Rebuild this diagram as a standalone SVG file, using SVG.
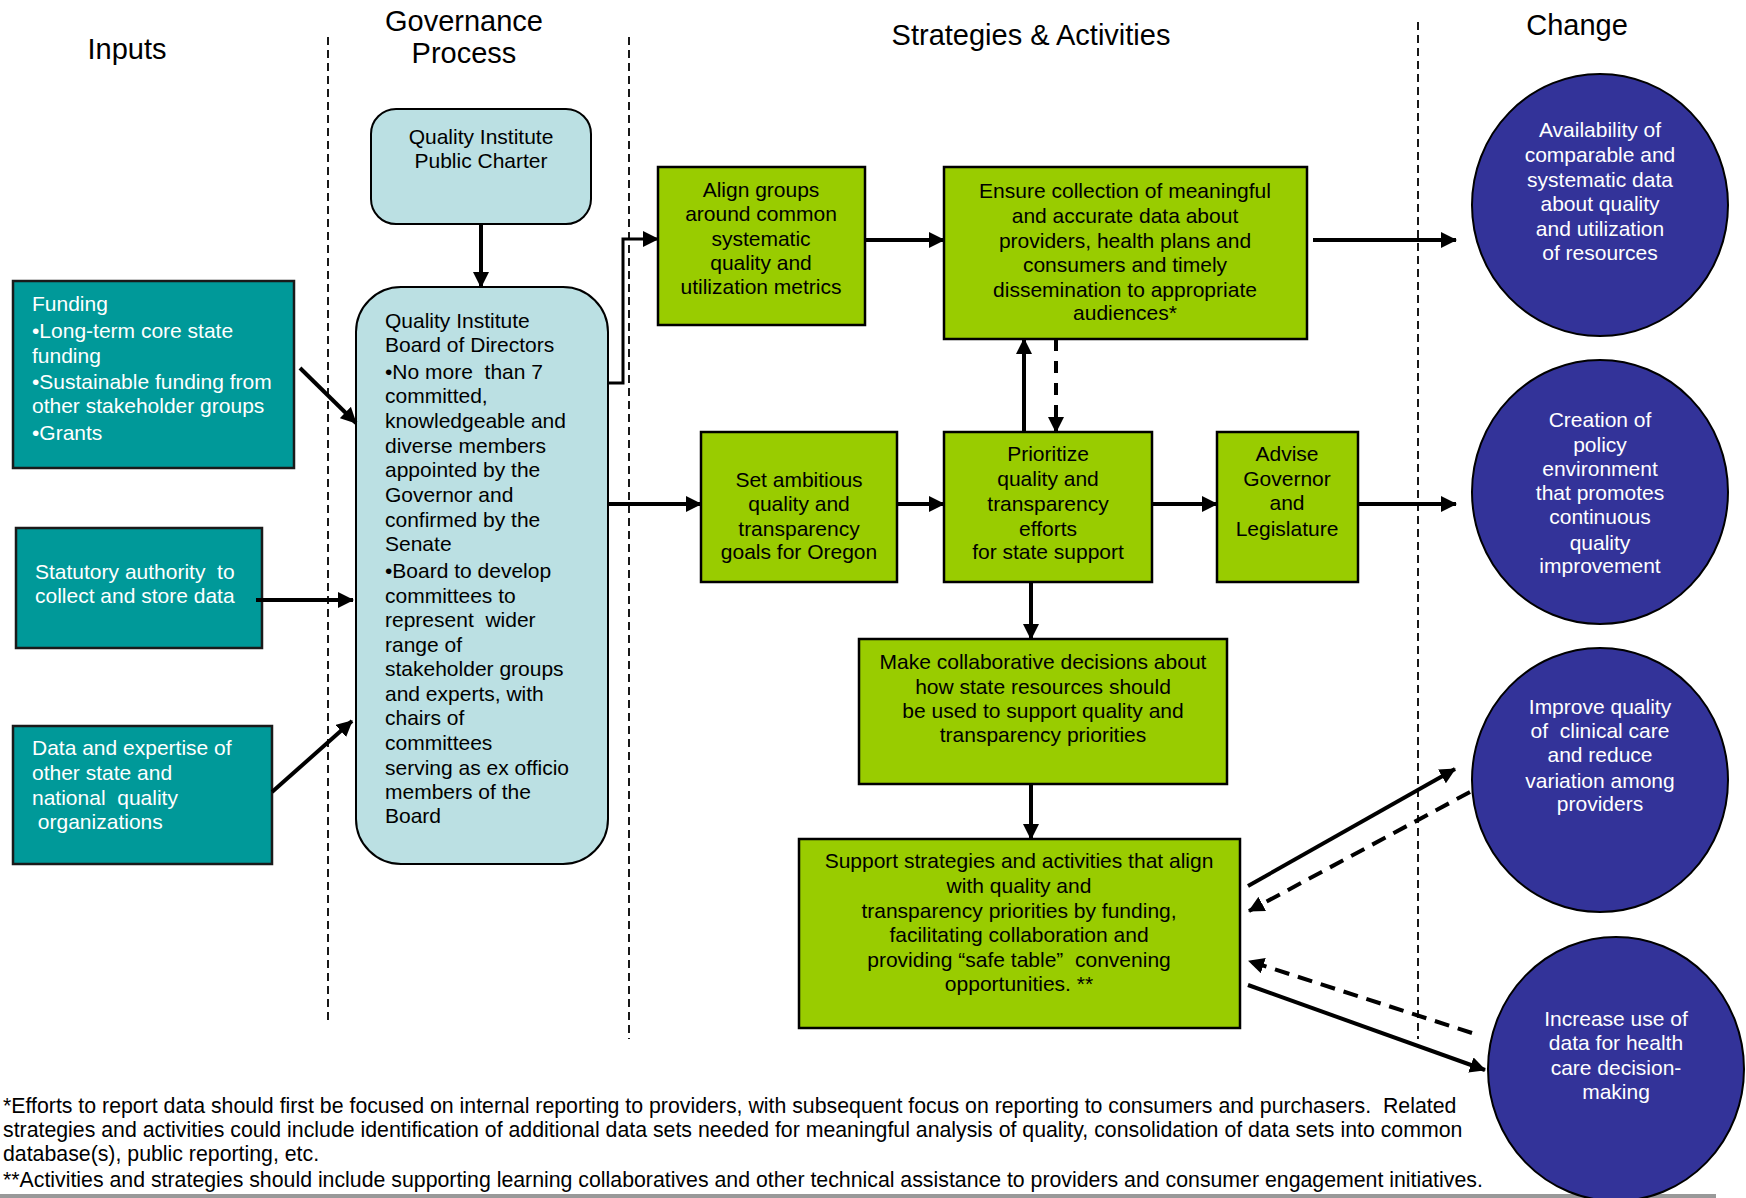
<svg xmlns="http://www.w3.org/2000/svg" width="1746" height="1198" viewBox="0 0 1746 1198">
<style>
text { font-family: "Liberation Sans", Arial, sans-serif; font-size: 21px; white-space: pre; }
.title { font-size: 29px; fill: #000; text-anchor: middle; }
.w { fill: #fff; }
.b { fill: #000; }
.c { text-anchor: middle; }
.teal { fill: #009999; stroke: #1a1a1a; stroke-width: 2.5; }
.lb { fill: #BBE0E3; stroke: #000; stroke-width: 2; }
.gr { fill: #99CC00; stroke: #000; stroke-width: 2.5; }
.circ { fill: #333399; stroke: #000; stroke-width: 2; }
.div { stroke: #000; stroke-width: 1.8; stroke-dasharray: 8 5; fill: none; }
.ar { stroke: #000; stroke-width: 4; fill: none; marker-end: url(#ah); }
.ard { stroke: #000; stroke-width: 4; fill: none; stroke-dasharray: 15 9; marker-end: url(#ah); }
.foot { font-size: 21.3px; fill: #000; }
</style>
<defs>
<marker id="ah" markerUnits="userSpaceOnUse" markerWidth="16" markerHeight="16" refX="15" refY="8" orient="auto" viewBox="0 0 16 16">
<path d="M0,0 L16,8 L0,16 z" fill="#000"/>
</marker>
</defs>
<rect x="0" y="0" width="1746" height="1198" fill="#fff"/>

<g id="titles">
<text class="title" x="127" y="59">Inputs</text>
<text class="title" x="464" y="31">Governance</text>
<text class="title" x="464" y="63">Process</text>
<text class="title" x="1031" y="45">Strategies &amp; Activities</text>
<text class="title" x="1577" y="35">Change</text>
</g>

<g id="dividers">
<line class="div" x1="328" y1="37" x2="328" y2="1024"/>
<line class="div" x1="629" y1="37" x2="629" y2="1039"/>
<line class="div" x1="1418" y1="22" x2="1418" y2="1039"/>
</g>

<g id="funding">
<rect class="teal" x="13" y="281" width="281" height="187"/>
<text class="w" x="32" y="311">Funding</text>
<text class="w" x="32" y="338">•Long-term core state</text>
<text class="w" x="32" y="363">funding</text>
<text class="w" x="32" y="389">•Sustainable funding from</text>
<text class="w" x="32" y="413">other stakeholder groups</text>
<text class="w" x="32" y="440">•Grants</text>
</g>

<g id="statutory">
<rect class="teal" x="16" y="528" width="246" height="120"/>
<text class="w" x="35" y="579">Statutory authority  to</text>
<text class="w" x="35" y="603">collect and store data</text>
</g>

<g id="data-expertise">
<rect class="teal" x="13" y="726" width="259" height="138"/>
<text class="w" x="32" y="755">Data and expertise of</text>
<text class="w" x="32" y="780">other state and</text>
<text class="w" x="32" y="805">national  quality</text>
<text class="w" x="32" y="829"> organizations</text>
</g>

<g id="charter">
<rect class="lb" x="371" y="109" width="220" height="115" rx="25" ry="25"/>
<text class="b c" x="481" y="144">Quality Institute</text>
<text class="b c" x="481" y="168">Public Charter</text>
</g>

<g id="board">
<rect class="lb" x="356" y="287" width="252" height="577" rx="45" ry="45"/>
<text class="b" x="385" y="328">Quality Institute</text>
<text class="b" x="385" y="352">Board of Directors</text>
<text class="b" x="385" y="379">•No more  than 7</text>
<text class="b" x="385" y="403">committed,</text>
<text class="b" x="385" y="428">knowledgeable and</text>
<text class="b" x="385" y="453">diverse members</text>
<text class="b" x="385" y="477">appointed by the</text>
<text class="b" x="385" y="502">Governor and</text>
<text class="b" x="385" y="527">confirmed by the</text>
<text class="b" x="385" y="551">Senate</text>
<text class="b" x="385" y="578">•Board to develop</text>
<text class="b" x="385" y="603">committees to</text>
<text class="b" x="385" y="627">represent  wider</text>
<text class="b" x="385" y="652">range of</text>
<text class="b" x="385" y="676">stakeholder groups</text>
<text class="b" x="385" y="701">and experts, with</text>
<text class="b" x="385" y="725">chairs of</text>
<text class="b" x="385" y="750">committees</text>
<text class="b" x="385" y="775">serving as ex officio</text>
<text class="b" x="385" y="799">members of the</text>
<text class="b" x="385" y="823">Board</text>
</g>

<g id="align">
<rect class="gr" x="658" y="167" width="207" height="158"/>
<text class="b c" x="761" y="197">Align groups</text>
<text class="b c" x="761" y="221">around common</text>
<text class="b c" x="761" y="246">systematic</text>
<text class="b c" x="761" y="270">quality and</text>
<text class="b c" x="761" y="294">utilization metrics</text>
</g>

<g id="ensure">
<rect class="gr" x="944" y="167" width="363" height="172"/>
<text class="b c" x="1125" y="198">Ensure collection of meaningful</text>
<text class="b c" x="1125" y="223">and accurate data about</text>
<text class="b c" x="1125" y="248">providers, health plans and</text>
<text class="b c" x="1125" y="272">consumers and timely</text>
<text class="b c" x="1125" y="297">dissemination to appropriate</text>
<text class="b c" x="1125" y="320">audiences*</text>
</g>

<g id="set-goals">
<rect class="gr" x="701" y="432" width="196" height="150"/>
<text class="b c" x="799" y="487">Set ambitious</text>
<text class="b c" x="799" y="511">quality and</text>
<text class="b c" x="799" y="536">transparency</text>
<text class="b c" x="799" y="559">goals for Oregon</text>
</g>

<g id="prioritize">
<rect class="gr" x="944" y="432" width="208" height="150"/>
<text class="b c" x="1048" y="461">Prioritize</text>
<text class="b c" x="1048" y="486">quality and</text>
<text class="b c" x="1048" y="511">transparency</text>
<text class="b c" x="1048" y="536">efforts</text>
<text class="b c" x="1048" y="559">for state support</text>
</g>

<g id="advise">
<rect class="gr" x="1217" y="432" width="141" height="150"/>
<text class="b c" x="1287" y="461">Advise</text>
<text class="b c" x="1287" y="486">Governor</text>
<text class="b c" x="1287" y="510">and</text>
<text class="b c" x="1287" y="536">Legislature</text>
</g>

<g id="make-decisions">
<rect class="gr" x="859" y="639" width="368" height="145"/>
<text class="b c" x="1043" y="669">Make collaborative decisions about</text>
<text class="b c" x="1043" y="694">how state resources should</text>
<text class="b c" x="1043" y="718">be used to support quality and</text>
<text class="b c" x="1043" y="742">transparency priorities</text>
</g>

<g id="support">
<rect class="gr" x="799" y="839" width="441" height="189"/>
<text class="b c" x="1019" y="868">Support strategies and activities that align</text>
<text class="b c" x="1019" y="893">with quality and</text>
<text class="b c" x="1019" y="918">transparency priorities by funding,</text>
<text class="b c" x="1019" y="942">facilitating collaboration and</text>
<text class="b c" x="1019" y="967">providing “safe table”  convening</text>
<text class="b c" x="1019" y="991">opportunities. **</text>
</g>

<g id="change-availability">
<ellipse class="circ" cx="1600" cy="205" rx="128" ry="131"/>
<text class="w c" x="1600" y="137">Availability of</text>
<text class="w c" x="1600" y="162">comparable and</text>
<text class="w c" x="1600" y="187">systematic data</text>
<text class="w c" x="1600" y="211">about quality</text>
<text class="w c" x="1600" y="236">and utilization</text>
<text class="w c" x="1600" y="260">of resources</text>
</g>

<g id="change-policy">
<ellipse class="circ" cx="1600" cy="492" rx="128" ry="132"/>
<text class="w c" x="1600" y="427">Creation of</text>
<text class="w c" x="1600" y="452">policy</text>
<text class="w c" x="1600" y="476">environment</text>
<text class="w c" x="1600" y="500">that promotes</text>
<text class="w c" x="1600" y="524">continuous</text>
<text class="w c" x="1600" y="550">quality</text>
<text class="w c" x="1600" y="573">improvement</text>
</g>

<g id="change-clinical">
<ellipse class="circ" cx="1600" cy="780" rx="128" ry="132"/>
<text class="w c" x="1600" y="714">Improve quality</text>
<text class="w c" x="1600" y="738">of  clinical care</text>
<text class="w c" x="1600" y="762">and reduce</text>
<text class="w c" x="1600" y="788">variation among</text>
<text class="w c" x="1600" y="811">providers</text>
</g>

<g id="footnotes">
<rect x="0" y="1194" width="1716" height="4" fill="#999999"/>
<text class="foot" x="3" y="1113">*Efforts to report data should first be focused on internal reporting to providers, with subsequent focus on reporting to consumers and purchasers.  Related</text>
<text class="foot" x="3" y="1137">strategies and activities could include identification of additional data sets needed for meaningful analysis of quality, consolidation of data sets into common</text>
<text class="foot" x="3" y="1161">database(s), public reporting, etc.</text>
<text class="foot" x="3" y="1187">**Activities and strategies should include supporting learning collaboratives and other technical assistance to providers and consumer engagement initiatives.</text>
</g>

<g id="change-data-use">
<ellipse class="circ" cx="1616" cy="1069" rx="128" ry="132"/>
<text class="w c" x="1616" y="1026">Increase use of</text>
<text class="w c" x="1616" y="1050">data for health</text>
<text class="w c" x="1616" y="1075">care decision-</text>
<text class="w c" x="1616" y="1099">making</text>
</g>

<g id="connectors">
<line class="ar" x1="481" y1="224" x2="481" y2="287"/>
<line class="ar" x1="300" y1="368" x2="356" y2="423"/>
<line class="ar" x1="256" y1="600" x2="353" y2="600"/>
<line class="ar" x1="272" y1="792" x2="352" y2="721"/>
<polyline class="ar" style="stroke-width:3" points="608,383 623,383 623,239 658,239"/>
<line class="ar" x1="608" y1="504" x2="701" y2="504"/>
<line class="ar" x1="865" y1="240" x2="944" y2="240"/>
<line class="ar" x1="1313" y1="240" x2="1456" y2="240"/>
<line class="ar" x1="1024" y1="432" x2="1024" y2="339"/>
<line class="ard" x1="1056" y1="339" x2="1056" y2="432" style="stroke-dasharray:12 10"/>
<line class="ar" x1="897" y1="504" x2="944" y2="504"/>
<line class="ar" x1="1152" y1="504" x2="1217" y2="504"/>
<line class="ar" x1="1358" y1="504" x2="1456" y2="504"/>
<line class="ar" x1="1031" y1="582" x2="1031" y2="639"/>
<line class="ar" x1="1031" y1="784" x2="1031" y2="839"/>
<line class="ar" x1="1248" y1="886" x2="1455" y2="769"/>
<line class="ard" x1="1470" y1="792" x2="1249" y2="911"/>
<line class="ard" x1="1472" y1="1033" x2="1249" y2="961"/>
<line class="ar" x1="1248" y1="985" x2="1485" y2="1070"/>
</g>
</svg>
